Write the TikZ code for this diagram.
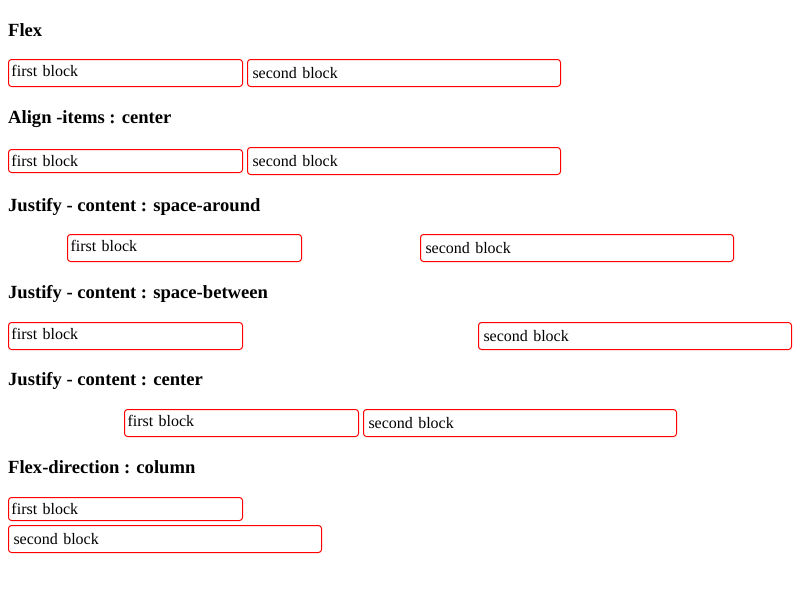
\documentclass[tikz,border=0pt]{standalone}
\usepackage{fontspec}
\setmainfont{Liberation Serif}
\usepackage{tikz}
\usetikzlibrary{positioning}
\definecolor{boxred}{RGB}{255,0,0}
\tikzstyle{head}=[anchor=base west, inner sep=0pt, font=\bfseries\fontsize{18.6}{22}\selectfont]
\tikzstyle{blk}=[draw=boxred, line width=1pt, rounded corners=3pt, anchor=north west, align=left, font=\fontsize{16}{19}\selectfont, text height=13.5pt]
\tikzstyle{first}=[blk, inner xsep=3pt, inner ysep=3pt, text width=228pt, text depth=3.5pt]
\tikzstyle{firstfull}=[first, text depth=7.5pt]
\tikzstyle{second}=[blk, inner xsep=5pt, inner ysep=5pt, text width=303pt, text depth=3.5pt]

\begin{document}
\begin{tikzpicture}[x=1pt,y=-1pt]
		    \useasboundingbox (0,0) rectangle (800,600);
		    % flex
		    \node [head] (h1) at (8,36) {Flex};
		    \node [firstfull] (a1) at (8,59) {first block};
		    \node [second] (b1) at (247,59) {second block};
		    % align-items
		    \node [head] (h2) at (8,123) {Align -items : center};
		    \node [first] (a2) at (8,149) {first block};
		    \node [second] (b2) at (247,147) {second block};
		    % space-around
		    \node [head] (h3) at (8,211) {Justify - content : space-around};
		    \node [firstfull] (a3) at (67,234) {first block};
		    \node [second] (b3) at (420,234) {second block};
		    % space-between
		    \node [head] (h4) at (8,298) {Justify - content : space-between};
		    \node [firstfull] (a4) at (8,322) {first block};
		    \node [second] (b4) at (478,322) {second block};
		    % center
		    \node [head] (h5) at (8,385) {Justify - content : center};
		    \node [firstfull] (a5) at (124,409) {first block};
		    \node [second] (b5) at (363,409) {second block};
		    % column
		    \node [head] (h6) at (8,473) {Flex-direction : column};
		    \node [first] (a6) at (8,497) {first block};
		    \node [second] (b6) at (8,525) {second block};
		\end{tikzpicture}
\end{document}
